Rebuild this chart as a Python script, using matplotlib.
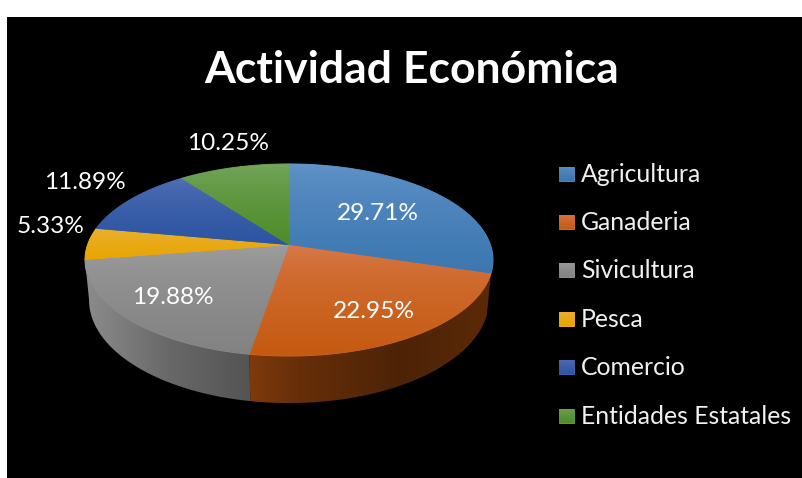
import numpy as np
import matplotlib
matplotlib.use("Agg")
import matplotlib.pyplot as plt
from matplotlib.colors import LinearSegmentedColormap, to_rgb
from matplotlib.patches import Polygon, Rectangle

TITLE = "Actividad Económica"
categories = ["Agricultura", "Ganaderia", "Sivicultura", "Pesca", "Comercio", "Entidades Estatales"]
values = [29.71, 22.95, 19.88, 5.33, 11.89, 10.25]

# top / bottom colours of each slice gradient
top_colors = ["#6496c9", "#da7c4e", "#a0a0a0", "#e9b33f", "#5572b6", "#78a862"]
bottom_colors = ["#3c77b1", "#c55a11", "#828282", "#e8a500", "#2b54a2", "#4f8c2a"]

# where the percent labels sit, in pixels
label_x = [378, 374, 173, 51, 85, 228]
label_y = [213.5, 311.5, 297.5, 226.5, 182.5, 143.5]

FONT = "Lato"
KEEP = 0.156  # perspective strength of the pie plane


def top_rim(theta):
    # theta clockwise from 12 o'clock, far side of the pie is drawn smaller
    w = 1 + KEEP * np.cos(theta)
    return 289 + 201.5 * np.sin(theta) / w, 245 - 93.7 * np.cos(theta) / w


def bottom_rim(theta):
    w = 1 + KEEP * np.cos(theta)
    return 289 + 197.5 * np.sin(theta) / w, 284 - 100.5 * np.cos(theta) / w


def gradient_fill(ax, pts, c_top, c_bottom):
    # vertical gradient clipped to the polygon, solid patch below hides the seams
    mid = tuple((a + b) / 2 for a, b in zip(to_rgb(c_top), to_rgb(c_bottom)))
    ax.add_patch(Polygon(pts, closed=True, facecolor=mid, edgecolor=mid, linewidth=0.7, zorder=3))
    clip = Polygon(pts, closed=True, facecolor="none", edgecolor="none")
    ax.add_patch(clip)
    cmap = LinearSegmentedColormap.from_list("g", [c_top, c_bottom])
    # power < 1: light only near the top edge, like the office gradient
    ramp = np.linspace(0, 1, 128) ** 0.6
    im = ax.imshow(ramp.reshape(-1, 1), cmap=cmap, aspect="auto", vmin=0, vmax=1,
                   extent=[pts[:, 0].min() - 1, pts[:, 0].max() + 1, pts[:, 1].max() + 1, pts[:, 1].min() - 1],
                   interpolation="bilinear", zorder=3.5)
    im.set_clip_path(clip)


def wall(ax, start, end, base, xs, factors):
    # side of the pie, horizontal shading clipped to the rim outline
    th = np.linspace(start, end, 150)
    tx, ty = top_rim(th)
    bx, by = bottom_rim(th[::-1])
    pts = np.column_stack([np.r_[tx, bx], np.r_[ty, by]])
    left, right = pts[:, 0].min() - 1, pts[:, 0].max() + 1
    grid = np.linspace(left, right, 256)
    shade = np.interp(grid, xs, factors)
    img = (shade[:, None] * np.array(base) / 255).reshape(1, -1, 3).clip(0, 1)
    clip = Polygon(pts, closed=True, facecolor="none", edgecolor="none")
    ax.add_patch(clip)
    im = ax.imshow(img, aspect="auto", extent=[left, right, pts[:, 1].max() + 1, pts[:, 1].min() - 1],
                   interpolation="bilinear", zorder=2)
    im.set_clip_path(clip)


fig = plt.figure(figsize=(8.03, 4.78), dpi=100, facecolor="white")
ax = fig.add_axes([0, 0, 1, 1])
ax.set_axis_off()
ax.add_patch(Rectangle((7, 17), 796, 461, facecolor="black", edgecolor="none", zorder=0))

edges = np.cumsum([0] + values) / sum(values) * 2 * np.pi

# only orange and grey show their side
wall(ax, edges[1], edges[2], (197, 90, 17), [250, 300, 400, 490], [0.64, 0.52, 0.39, 0.46])
wall(ax, edges[2], edges[3], (140, 140, 140), [85, 170, 250], [1.0, 0.74, 0.6])

for i in range(len(values)):
    th = np.linspace(edges[i], edges[i + 1], 120)
    rx, ry = top_rim(th)
    pts = np.column_stack([np.r_[289, rx], np.r_[245, ry]])
    gradient_fill(ax, pts, top_colors[i], bottom_colors[i])

for v, x, y in zip(values, label_x, label_y):
    ax.text(x, y, f"{v:.2f}%", color="white", fontsize=17.6, family=FONT,
            ha="center", va="center", zorder=5)

ax.text(411.5, 70, TITLE, color="white", fontsize=32, fontweight="bold", family=FONT,
        ha="center", va="center", zorder=5)

# legend
for i, name in enumerate(categories):
    yc = 173.5 + 48.4 * i
    sq = np.array([(559.5, yc - 7), (574.5, yc - 7), (574.5, yc + 7), (559.5, yc + 7)])
    gradient_fill(ax, sq, top_colors[i], bottom_colors[i])
    ax.text(581, yc + 0.5, name, color="#f0f0f0", fontsize=17.8, family=FONT, ha="left", va="center", zorder=5)

ax.set_xlim(0, 803)
ax.set_ylim(478, 0)
fig.savefig("out.png", dpi=100, facecolor="white")
